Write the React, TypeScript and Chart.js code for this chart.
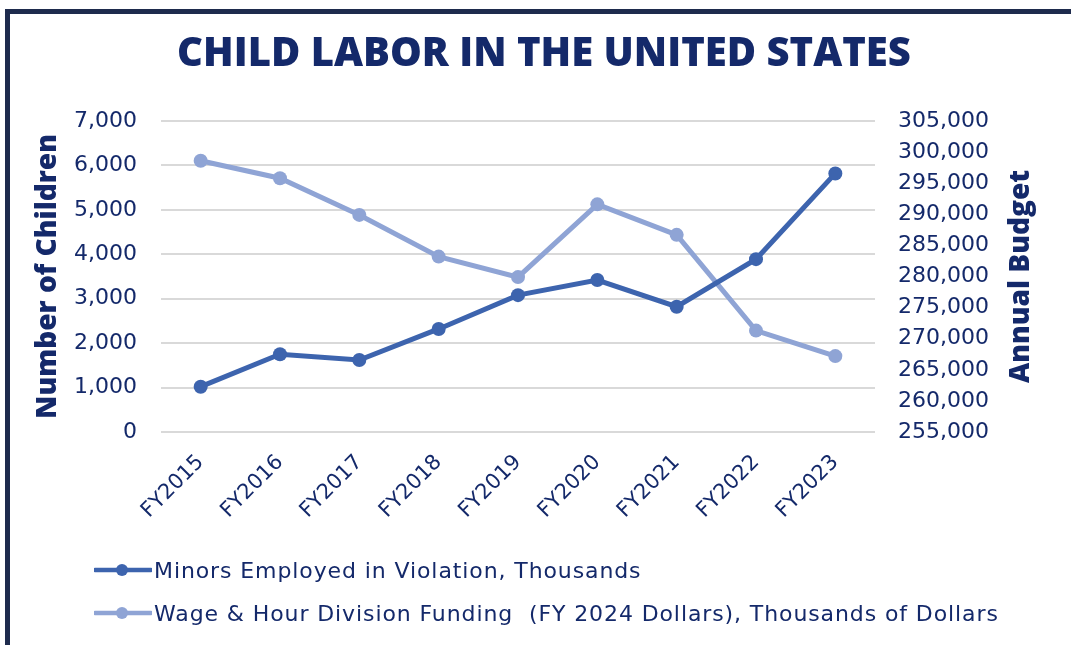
import React, { useEffect, useRef } from "react";
import { Chart, registerables } from "chart.js";

Chart.register(...registerables);

const categories = ["FY2015", "FY2016", "FY2017", "FY2018", "FY2019", "FY2020", "FY2021", "FY2022", "FY2023"];
const minorsEmployed = [1020, 1750, 1620, 2320, 3080, 3420, 2820, 3890, 5820];
const whdFunding = [298600, 295800, 289900, 283200, 279900, 291600, 286700, 271300, 267200];

const leftTicks = { min: 0, max: 7000, step: 1000 };
const rightTicks = { min: 255000, max: 305000, step: 5000 };

const seriesNames = [
  "Minors Employed in Violation, Thousands",
  "Wage & Hour Division Funding  (FY 2024 Dollars), Thousands of Dollars",
];

const TITLE = "CHILD LABOR IN THE UNITED STATES";
const LEFT_TITLE = "Number of Children";
const RIGHT_TITLE = "Annual Budget";

const DARK = "#3D64AE";
const LIGHT = "#8FA4D5";
const NAVY = "#14296A";
const BORDER = "#1E2B4D";

const fmt = (v: number) => Number(v).toLocaleString("en-US");

const rightTitlePlugin = {
  id: "rightTitle",
  afterDraw(chart: any) {
    const s = chart.scales.yR;
    const area = chart.chartArea;
    const ctx = chart.ctx;
    ctx.save();
    ctx.font = "800 28px 'Open Sans'";
    ctx.fillStyle = NAVY;
    ctx.textAlign = "center";
    ctx.textBaseline = "middle";
    ctx.translate(s.right - 50, (area.top + area.bottom) / 2);
    ctx.rotate(-Math.PI / 2);
    ctx.fillText(RIGHT_TITLE, 0, 0);
    ctx.restore();
  },
};

function LegendMarker({ color }: { color: string }) {
  return (
    <svg width={58} height={14} style={{ display: "block" }}>
      <line x1={1} y1={7} x2={57} y2={7} stroke={color} strokeWidth={4.5} strokeLinecap="round" />
      <circle cx={28} cy={7} r={6} fill={color} />
    </svg>
  );
}

export default function App() {
  const ref = useRef<HTMLCanvasElement | null>(null);

  useEffect(() => {
    if (!ref.current) return;
    const chart = new Chart(ref.current, {
      type: "line",
      data: {
        labels: categories,
        datasets: [
          {
            label: seriesNames[0],
            data: minorsEmployed,
            borderColor: DARK,
            backgroundColor: DARK,
            borderWidth: 5,
            pointRadius: 7,
            pointBackgroundColor: DARK,
            pointBorderWidth: 0,
            yAxisID: "yL",
            tension: 0,
          },
          {
            label: seriesNames[1],
            data: whdFunding,
            borderColor: LIGHT,
            backgroundColor: LIGHT,
            borderWidth: 5,
            pointRadius: 7,
            pointBackgroundColor: LIGHT,
            pointBorderWidth: 0,
            yAxisID: "yR",
            tension: 0,
          },
        ],
      },
      options: {
        responsive: false,
        animation: false,
        devicePixelRatio: 1,
        layout: { padding: { left: 17, right: 0, top: 14, bottom: 0 } },
        plugins: {
          legend: { display: false },
          tooltip: { enabled: false },
          title: {
            display: true,
            text: TITLE,
            color: NAVY,
            font: { family: "'Open Sans'", size: 40, weight: "800" },
            padding: { top: 17, bottom: 42 },
          },
        },
        scales: {
          x: {
            offset: true,
            grid: { display: false, drawTicks: false },
            border: { display: false },
            ticks: {
              color: NAVY,
              font: { family: "'DejaVu Sans'", size: 21 },
              minRotation: 45,
              maxRotation: 45,
              padding: 18,
              autoSkip: false,
            },
            afterFit: (s: any) => {
              s.height = 213;
            },
          },
          yL: {
            position: "left",
            min: leftTicks.min,
            max: leftTicks.max,
            grid: { color: "#D9D9D9", lineWidth: 2, drawTicks: false },
            border: { display: false },
            ticks: {
              stepSize: leftTicks.step,
              color: NAVY,
              font: { family: "'DejaVu Sans'", size: 22 },
              padding: 24,
              callback: (v: any) => fmt(v),
            },
            title: {
              display: true,
              text: LEFT_TITLE,
              color: NAVY,
              font: { family: "'Open Sans'", size: 28, weight: "800" },
              padding: { top: 14, bottom: 0 },
            },
            afterFit: (s: any) => {
              s.width = 144;
            },
          },
          yR: {
            position: "right",
            min: rightTicks.min,
            max: rightTicks.max,
            grid: { display: false, drawTicks: false },
            border: { display: false },
            ticks: {
              stepSize: rightTicks.step,
              color: NAVY,
              font: { family: "'DejaVu Sans'", size: 22 },
              padding: 23,
              callback: (v: any) => fmt(v),
            },
            afterFit: (s: any) => {
              s.width = 196;
            },
          },
        },
      },
      plugins: [rightTitlePlugin],
    } as any);
    return () => chart.destroy();
  }, []);

  const legendColors = [DARK, LIGHT];
  const legendTops = [556, 599];

  return (
    <div style={{ position: "fixed", left: 0, top: 0, width: 1071, height: 645, background: "#fff", overflow: "hidden" }}>
      <div
        style={{
          position: "absolute",
          left: 5,
          top: 9,
          width: 2000,
          height: 2000,
          borderLeft: `5px solid ${BORDER}`,
          borderTop: `5px solid ${BORDER}`,
        }}
      />
      <canvas ref={ref} width={1071} height={645} style={{ position: "absolute", left: 0, top: 0 }} />
      {seriesNames.map((name, i) => (
        <div
          key={name}
          style={{
            position: "absolute",
            left: 94,
            top: legendTops[i],
            height: 28,
            display: "flex",
            alignItems: "center",
            gap: 2,
            fontFamily: "'DejaVu Sans'",
            fontSize: 22,
            letterSpacing: "0.9px",
            color: NAVY,
            whiteSpace: "pre",
          }}
        >
          <LegendMarker color={legendColors[i]} />
          <span>{name}</span>
        </div>
      ))}
    </div>
  );
}
